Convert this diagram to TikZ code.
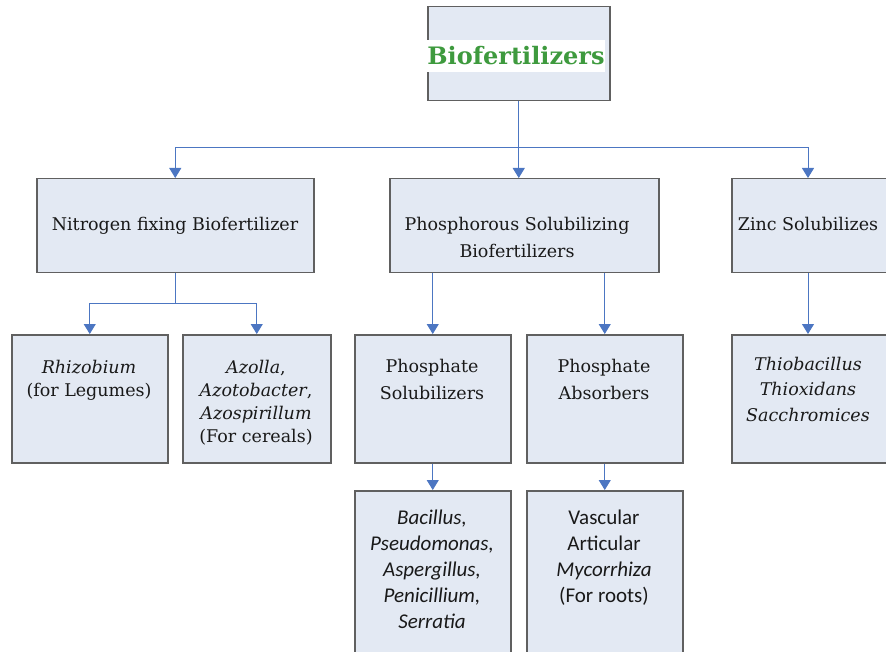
\documentclass[tikz,border=0pt]{standalone}
\usepackage{fontspec}
\setmainfont{DejaVu Serif}
\newfontfamily\calib{Carlito}
\usepackage{xcolor}
\usepackage{tikz}
\usetikzlibrary{arrows.meta}
\definecolor{boxfill}{HTML}{E3E9F3}
\definecolor{boxline}{HTML}{606060}
\definecolor{linkblue}{HTML}{4C76C2}
\definecolor{titlegreen}{HTML}{3E9A3E}
\tikzstyle{box}=[draw=boxline,fill=boxfill,line width=1.5pt,anchor=north west,inner sep=0pt]
\tikzstyle{txt}=[align=center,anchor=north,inner sep=0pt,text=black!90,font=\fontsize{17.5}{27}\selectfont]
\tikzstyle{small}=[font=\fontsize{17.5}{23}\selectfont]
\tikzstyle{sans}=[font=\calib\fontsize{21}{26}\selectfont]
\tikzstyle{link}=[draw=linkblue,line width=1pt]
\tikzstyle{arrow}=[link,-{Triangle[width=12pt,length=10pt]}]

\begin{document}
\begin{tikzpicture}[x=1pt,y=-1pt]
    \useasboundingbox (0,0) rectangle (886,652);
    % boxes
    \node [box,minimum width=182pt,minimum height=94pt] (root) at (427,6) {};
    \node [box,minimum width=277pt,minimum height=94pt] (nfix) at (36,178) {};
    \node [box,minimum width=269pt,minimum height=94pt] (phos) at (389,178) {};
    \node [box,minimum width=175pt,minimum height=94pt] (zinc) at (731,178) {};
    \node [box,minimum width=156pt,minimum height=128pt] (rhiz) at (11,334) {};
    \node [box,minimum width=148pt,minimum height=128pt] (azol) at (182,334) {};
    \node [box,minimum width=156pt,minimum height=128pt] (psol) at (354,334) {};
    \node [box,minimum width=156pt,minimum height=128pt] (pabs) at (526,334) {};
    \node [box,minimum width=175pt,minimum height=128pt] (thio) at (731,334) {};
    \node [box,minimum width=156pt,minimum height=180pt] (bacl) at (354,490) {};
    \node [box,minimum width=156pt,minimum height=180pt] (vasc) at (526,490) {};
    % texts
    \node [fill=white,minimum width=178pt,minimum height=32pt,inner sep=0pt,
           text=titlegreen,font=\fontsize{24}{28}\bfseries] (title) at (516,56) {Biofertilizers};
    \node [txt] (nfix-t) at (175,217) {Nitrogen fixing Biofertilizer};
    \node [txt] (phos-t) at (517,217) {Phosphorous Solubilizing\\Biofertilizers};
    \node [txt] (zinc-t) at (808,217) {Zinc Solubilizes};
    \node [txt,small] (rhiz-t) at (89,360) {\textit{Rhizobium}\\(for Legumes)};
    \node [txt,small] (azol-t) at (256,360) {\textit{Azolla},\\\textit{Azotobacter},\\\textit{Azospirillum}\\(For cereals)};
    \node [txt] (psol-t) at (432,359) {Phosphate\\Solubilizers};
    \node [txt] (pabs-t) at (604,359) {Phosphate\\Absorbers};
    \node [txt,font=\fontsize{17.5}{25.5}\selectfont] (thio-t) at (808,357) {\textit{Thiobacillus}\\\textit{Thioxidans}\\\textit{Sacchromices}};
    \node [txt,sans] (bacl-t) at (432,510) {\textit{Bacillus,}\\\textit{Pseudomonas,}\\\textit{Aspergillus,}\\\textit{Penicillium,}\\\textit{Serratia}};
    \node [txt,sans] (vasc-t) at (604,510) {Vascular\\Articular\\\textit{Mycorrhiza}\\(For roots)};
    % connectors
    \draw [link] (root.south) -- ++(0,46) coordinate (hub);
    \draw [arrow] (hub) -| (nfix.north);
    \draw [arrow] (hub) -- (hub |- phos.north);
    \draw [arrow] (hub) -| ([xshift=77pt]zinc.north west);
    \draw [link] (nfix.south) -- ++(0,30) coordinate (nhub);
    \draw [arrow] (nhub) -| (rhiz.north);
    \draw [arrow] (nhub) -| (azol.north);
    \draw [arrow] (psol.north |- phos.south) -- (psol.north);
    \draw [arrow] (pabs.north |- phos.south) -- (pabs.north);
    \draw [arrow] ([xshift=77pt]zinc.south west) -- ([xshift=77pt]thio.north west);
    \draw [arrow] (psol.south) -- (bacl.north);
    \draw [arrow] (pabs.south) -- (vasc.north);
\end{tikzpicture}
\end{document}
